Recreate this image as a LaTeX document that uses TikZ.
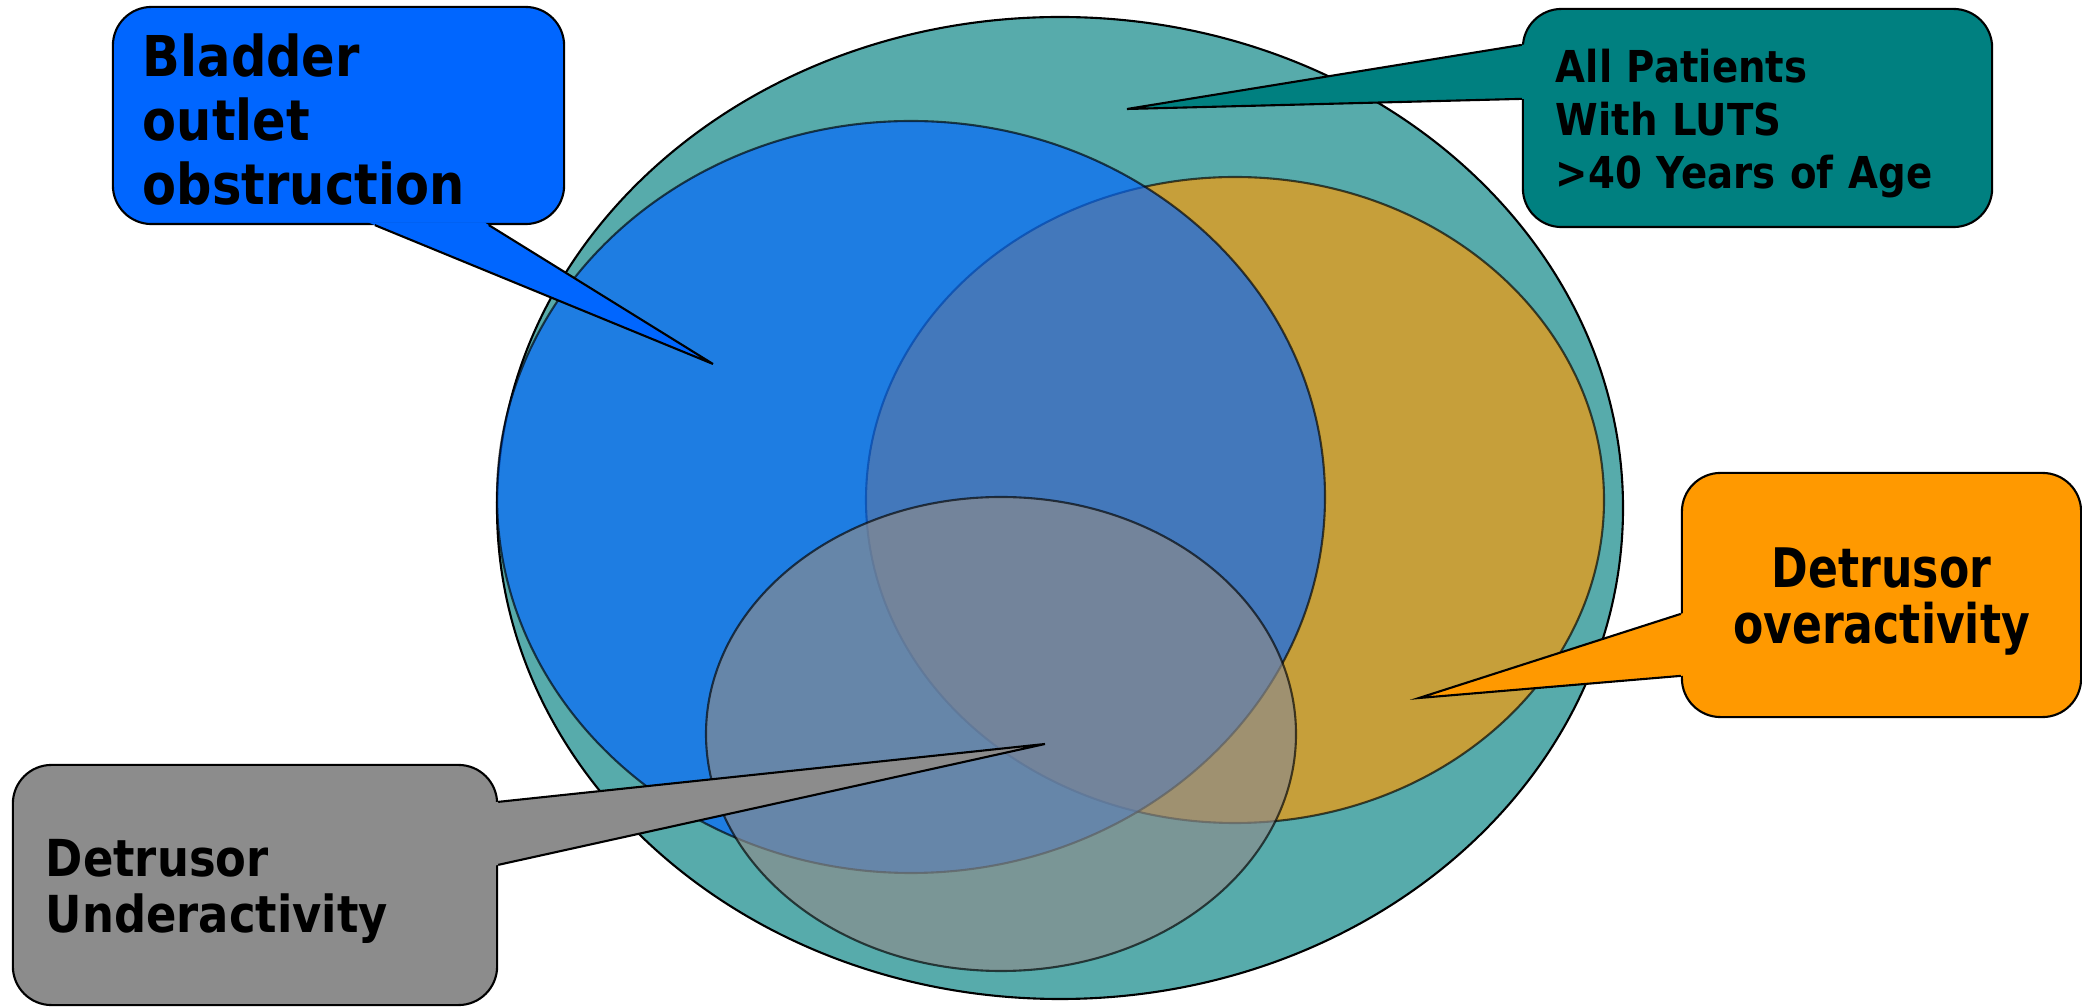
\documentclass[tikz,border=0pt]{standalone}
\usepackage{fontspec}
\setmainfont{DejaVu Sans}[FakeStretch=0.88]
\newfontfamily\dofont{DejaVu Sans}[FakeStretch=0.81]
\usetikzlibrary{calc}

\definecolor{lutsteal}{RGB}{0,128,128}
\definecolor{booblue}{RGB}{0,102,255}
\definecolor{doorange}{RGB}{255,153,0}
\definecolor{dugray}{RGB}{140,140,140}

% pointer of a callout: colour, base point, tip, base point
\newcommand{\drawpointer}[4]{%
  \fill[#1] ($(#3)!1.02!(#2)$) -- (#3) -- ($(#3)!1.02!(#4)$) -- cycle;
  \draw (#2) -- (#3) -- (#4);
}

\begin{document}
\begin{tikzpicture}[x=0.01cm, y=-0.01cm, line width=0.6pt, line join=miter]
  % Parameters
  \def\setopacity{0.66}

  \tikzset{
    setellipse/.style={draw=black, opacity=\setopacity},
    callbox/.style={draw=black, rounded corners=11pt, inner sep=0pt},
    calltext/.style={inner sep=0pt, text width=4.3cm, align=left, anchor=west}
  }

  \useasboundingbox (0,0) rectangle (2082,1007);

  % Sets
  \draw[fill=lutsteal, fill opacity=\setopacity] (1060,508) ellipse [x radius=563, y radius=491];
  \draw[setellipse, fill=doorange] (1235,500) ellipse [x radius=369, y radius=323];
  \draw[setellipse, fill=booblue] (911,497) ellipse [x radius=414, y radius=376];
  \draw[setellipse, fill=dugray] (1001,734) ellipse [x radius=295, y radius=237];

  % Callout boxes
  \node[callbox, fill=booblue, minimum width=4.51cm, minimum height=2.17cm] (boo) at (338.5,115.5) {};
  \node[callbox, fill=lutsteal, minimum width=4.69cm, minimum height=2.18cm] (luts) at (1757.5,118) {};
  \node[callbox, fill=doorange, minimum width=3.99cm, minimum height=2.44cm] (do) at (1881.5,595) {};
  \node[callbox, fill=dugray, minimum width=4.84cm, minimum height=2.40cm] (du) at (255,885) {};

  % Pointers
  \coordinate (boo-a) at ($(boo.south west)+(263,0)$);
  \coordinate (boo-b) at ($(boo.south west)+(377,0)$);
  \coordinate (boo-tip) at (713,364);
  \drawpointer{booblue}{boo-a}{boo-tip}{boo-b}

  \coordinate (luts-a) at ($(luts.north west)+(0,37)$);
  \coordinate (luts-b) at ($(luts.north west)+(0,91)$);
  \coordinate (luts-tip) at (1127,109);
  \drawpointer{lutsteal}{luts-a}{luts-tip}{luts-b}

  \coordinate (do-a) at ($(do.north west)+(0,142)$);
  \coordinate (do-b) at ($(do.north west)+(0,204)$);
  \coordinate (do-tip) at (1419,698);
  \drawpointer{doorange}{do-a}{do-tip}{do-b}

  \coordinate (du-a) at ($(du.north east)+(0,38)$);
  \coordinate (du-b) at ($(du.north east)+(0,101)$);
  \coordinate (du-tip) at (1045,744);
  \drawpointer{dugray}{du-a}{du-tip}{du-b}

  % Labels
  \node[calltext, font=\bfseries\fontsize{16}{18.1}\selectfont]
    (boo-label) at ($(boo.west)+(30,4)$) {Bladder\\outlet\\obstruction};
  \node[calltext, font=\bfseries\fontsize{12.5}{15}\selectfont]
    (luts-label) at ($(luts.west)+(33,5.5)$) {All Patients\\With LUTS\\>40 Years of Age};
  \node[calltext, anchor=center, align=center, font=\dofont\bfseries\fontsize{15.5}{15.9}\selectfont]
    (do-label) at ($(do.center)+(0,6.5)$) {Detrusor\\overactivity};
  \node[calltext, font=\bfseries\fontsize{14.5}{15.9}\selectfont]
    (du-label) at ($(du.west)+(33,6.5)$) {Detrusor\\Underactivity};

\end{tikzpicture}
\end{document}
